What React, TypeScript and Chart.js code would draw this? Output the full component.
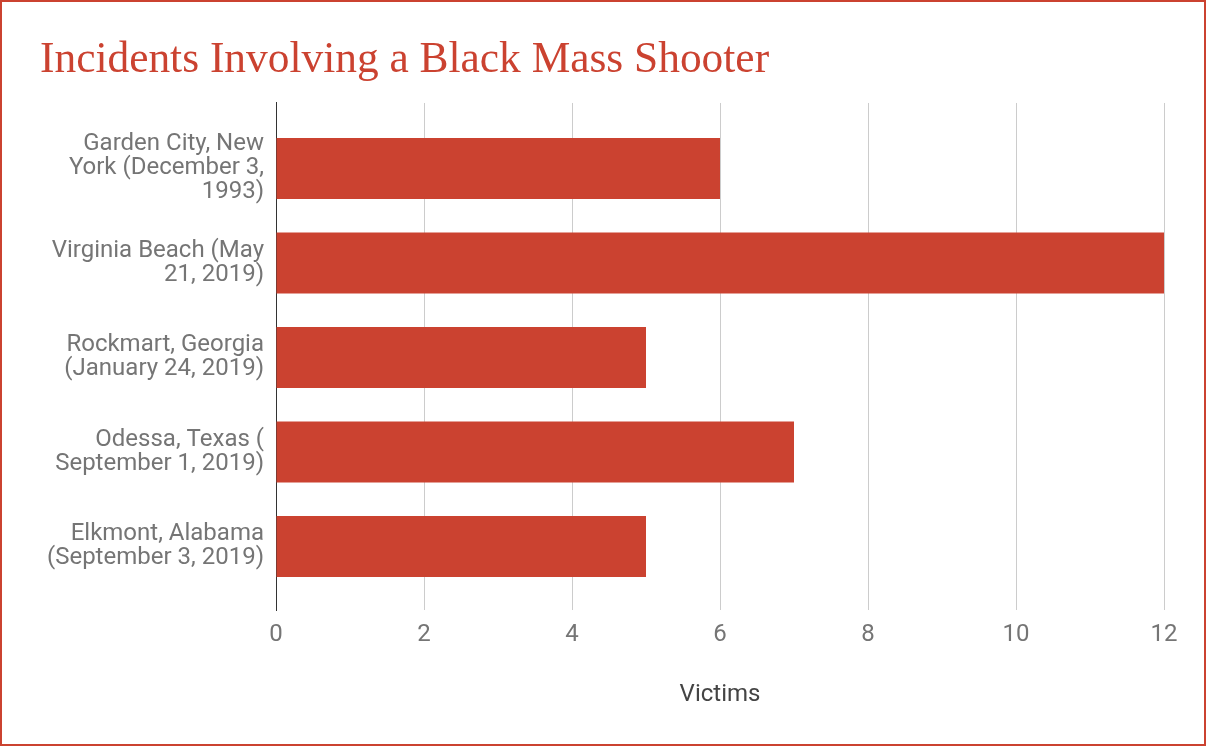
import React, { useEffect, useRef } from "react";
import { Chart, registerables } from "chart.js";

Chart.register(...registerables);

const TITLE = "Incidents Involving a Black Mass Shooter";
const incidents: string[][] = [
  ["Garden City, New", "York (December 3,", "1993)"],
  ["Virginia Beach (May", "21, 2019)"],
  ["Rockmart, Georgia", "(January 24, 2019)"],
  ["Odessa, Texas (", "September 1, 2019)"],
  ["Elkmont, Alabama", "(September 3, 2019)"],
];
const victims: number[] = [6, 12, 5, 7, 5];
const xTicks = { min: 0, max: 12, step: 2 };
const xTitle = "Victims";

const RED = "#cb4230";

export default function App() {
  const ref = useRef<HTMLCanvasElement | null>(null);

  useEffect(() => {
    if (!ref.current) return;
    const data = victims.map((v, i) => ({ x: v, y: i }));
    const chart = new Chart(ref.current, {
      type: "bar",
      data: {
        datasets: [
          {
            label: xTitle,
            data,
            backgroundColor: RED,
            borderWidth: 0,
            barPercentage: 0.645,
            categoryPercentage: 1,
          },
        ],
      },
      options: {
        indexAxis: "y",
        animation: false,
        responsive: true,
        maintainAspectRatio: false,
        layout: { padding: { left: 38, right: 40, top: 0, bottom: 35 } },
        plugins: {
          legend: { display: false },
          tooltip: { enabled: false },
          title: {
            display: true,
            text: TITLE,
            align: "start",
            color: RED,
            font: { family: "'Liberation Serif', serif", size: 43.4, weight: "normal", lineHeight: 1.2 },
            padding: { top: 33, bottom: 15.9 },
          },
        },
        scales: {
          x: {
            type: "linear",
            min: xTicks.min,
            max: xTicks.max,
            ticks: {
              stepSize: xTicks.step,
              color: "#757575",
              font: { family: "Roboto", size: 24, lineHeight: 1.2 },
              padding: 11,
            },
            grid: { color: "#cccccc", lineWidth: 1, drawTicks: false },
            border: { display: false },
            title: {
              display: true,
              text: xTitle,
              color: "#444444",
              font: { family: "Roboto", size: 24, lineHeight: 1.2 },
              padding: { top: 19.4, bottom: 0 },
            },
            afterFit: (s: any) => {
              s.paddingLeft = 0;
              s.paddingRight = 0;
            },
          },
          y: {
            type: "linear",
            reverse: true,
            offset: false,
            min: -0.693,
            max: incidents.length - 1 + 0.672,
            ticks: {
              stepSize: 1,
              includeBounds: false,
              autoSkip: false,
              color: "#757575",
              font: { family: "Roboto", size: 24, lineHeight: 1.0 },
              padding: 12,
              callback: (v: any) => (Number.isInteger(v) ? incidents[v] : ""),
            },
            grid: { display: false, drawTicks: false },
            border: { display: true, color: "#333333", width: 1 },
            afterFit: (s: any) => {
              s.width = 236;
              s.paddingTop = 0;
              s.paddingBottom = 0;
            },
          },
        },
      },
    });
    return () => chart.destroy();
  }, []);

  return (
    <div
      style={{
        position: "fixed",
        left: 0,
        top: 0,
        width: 1206,
        height: 746,
        boxSizing: "border-box",
        border: `2px solid ${RED}`,
        background: "#fff",
      }}
    >
      <div style={{ position: "relative", width: 1202, height: 742 }}>
        <canvas ref={ref} />
      </div>
    </div>
  );
}
